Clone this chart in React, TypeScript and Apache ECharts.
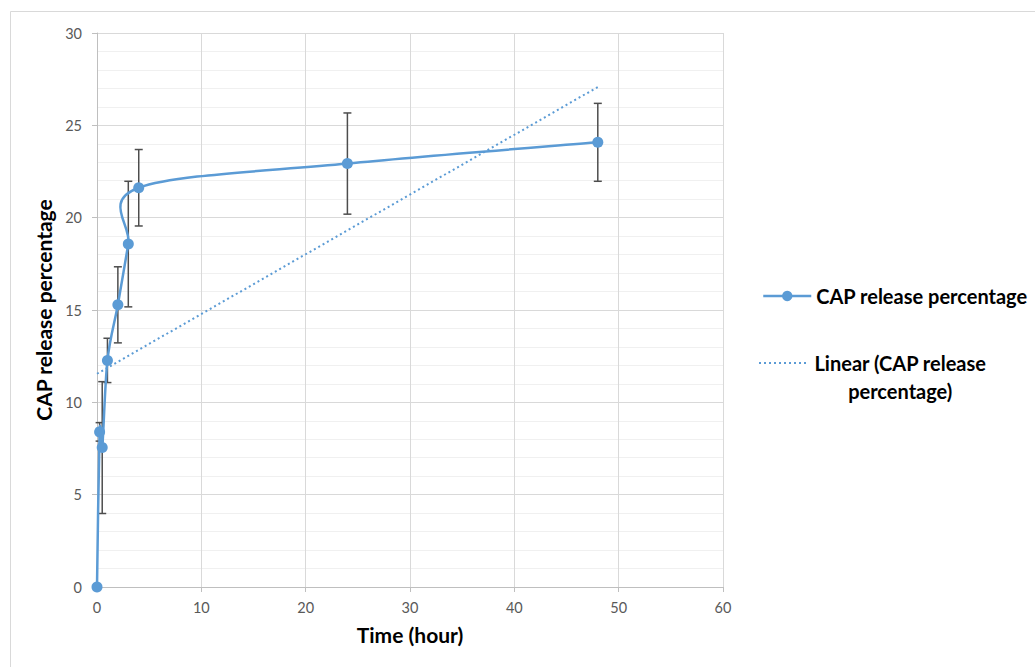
import React, { useEffect, useRef } from "react";
import * as echarts from "echarts";

// ---- data ----
const timeHours = [0, 0.25, 0.5, 1, 2, 3, 4, 24, 48];
const releasePct = [0, 8.4, 7.55, 12.27, 15.28, 18.57, 21.62, 22.93, 24.08];
const releaseErr = [0, 0.5, 3.57, 1.2, 2.06, 3.4, 2.07, 2.74, 2.11];

const seriesName = "CAP release percentage";
const trendName = "Linear (CAP release percentage)";
const xAxisTitle = "Time (hour)";
const yAxisTitle = "CAP release percentage";

const BLUE = "#5b9bd5";
const FONT = "Lato, 'Open Sans', sans-serif";

function linearFit(xs: number[], ys: number[]) {
  const n = xs.length;
  const mx = xs.reduce((a, b) => a + b, 0) / n;
  const my = ys.reduce((a, b) => a + b, 0) / n;
  let sxx = 0;
  let sxy = 0;
  for (let i = 0; i < n; i++) {
    sxx += (xs[i] - mx) * (xs[i] - mx);
    sxy += (xs[i] - mx) * (ys[i] - my);
  }
  const slope = sxy / sxx;
  return { slope, intercept: my - slope * mx };
}

export default function App() {
  const ref = useRef<HTMLDivElement>(null);

  useEffect(() => {
    if (!ref.current) return;
    const chart = echarts.init(ref.current, undefined, { renderer: "svg" });

    const pts = timeHours.map((x, i) => [x, releasePct[i]]);
    const fit = linearFit(timeHours, releasePct);
    const xEnd = timeHours[timeHours.length - 1];
    const trendData = [
      [timeHours[0], fit.intercept + fit.slope * timeHours[0]],
      [xEnd, fit.intercept + fit.slope * xEnd],
    ];
    const errData = pts
      .map((p, i) => [p[0], p[1] - releaseErr[i], p[1] + releaseErr[i], releaseErr[i]])
      .filter((d) => d[3] > 0);
    const segData = pts.slice(0, -1).map((p, i) => [p[0], p[1], i]);

    const titleStyle = { fontFamily: FONT, fontSize: 21, fontWeight: "bold", color: "#000" };
    const legendText = { fontFamily: FONT, fontSize: 20, fontWeight: "bold", color: "#000" };

    const option: any = {
      animation: false,
      backgroundColor: "#ffffff",
      textStyle: { fontFamily: FONT },
      grid: { left: 97, top: 33, right: 312, bottom: 80, containLabel: false },
      graphic: [
        {
          type: "rect",
          silent: true,
          z: -10,
          shape: { x: 10.5, y: 11.5, width: 1100, height: 700 },
          style: { fill: "none", stroke: "#d9d9d9", lineWidth: 1 },
        },
      ],
      xAxis: {
        type: "value",
        min: 0,
        max: 60,
        interval: 10,
        name: xAxisTitle,
        nameLocation: "middle",
        nameGap: 37,
        nameTextStyle: titleStyle,
        axisLine: { show: true, lineStyle: { color: "#bfbfbf", width: 1 } },
        axisTick: { show: true, length: 5, lineStyle: { color: "#bfbfbf" } },
        axisLabel: { fontFamily: FONT, fontSize: 14.5, color: "#595959", margin: 13 },
        splitLine: { show: true, lineStyle: { color: "#d9d9d9", width: 1 } },
      },
      yAxis: {
        type: "value",
        min: 0,
        max: 30,
        interval: 5,
        name: yAxisTitle,
        nameLocation: "middle",
        nameGap: 38,
        nameTextStyle: titleStyle,
        axisLine: { show: true, lineStyle: { color: "#bfbfbf", width: 1 } },
        axisTick: { show: true, length: 5, lineStyle: { color: "#bfbfbf" } },
        axisLabel: { fontFamily: FONT, fontSize: 14.5, color: "#595959", margin: 15 },
        splitLine: { show: true, lineStyle: { color: "#d9d9d9", width: 1 } },
        minorTick: { show: false, splitNumber: 5 },
        minorSplitLine: { show: true, lineStyle: { color: "#f0f0f0", width: 1 } },
      },
      legend: [
        {
          orient: "vertical",
          left: 762,
          top: 286,
          padding: 0,
          itemWidth: 48,
          itemHeight: 13,
          itemGap: 5,
          selectedMode: false,
          textStyle: legendText,
          data: [
            {
              name: seriesName,
              itemStyle: { color: BLUE },
              lineStyle: { color: BLUE, width: 2.5, opacity: 1 },
            },
          ],
        },
        {
          orient: "vertical",
          left: 758,
          top: 326,
          padding: 0,
          itemWidth: 50,
          itemHeight: 12,
          selectedMode: false,
          data: [
            {
              name: trendName,
              itemStyle: { color: "rgba(0,0,0,0)", opacity: 0 },
              lineStyle: { color: BLUE, width: 2, opacity: 1, type: [2, 3] },
            },
          ],
          formatter: () => "{s| }\n{a|Linear (CAP release}\n{a|percentage)}",
          textStyle: {
            ...legendText,
            rich: {
              s: { fontSize: 18, lineHeight: 28, align: "center" },
              a: { ...legendText, lineHeight: 28, align: "center" },
            },
          },
        },
      ],
      series: [
        {
          type: "custom",
          name: "errorbars",
          z: 2,
          silent: true,
          data: errData,
          encode: { x: 0, y: [1, 2] },
          renderItem: (params: any, api: any) => {
            const x = api.value(0);
            const lo = api.coord([x, api.value(1)]);
            const hi = api.coord([x, api.value(2)]);
            const cap = 4;
            const style = { stroke: "#4d4d4d", lineWidth: 1.5 };
            return {
              type: "group",
              children: [
                { type: "line", shape: { x1: hi[0], y1: hi[1], x2: lo[0], y2: lo[1] }, style },
                { type: "line", shape: { x1: hi[0] - cap, y1: hi[1], x2: hi[0] + cap, y2: hi[1] }, style },
                { type: "line", shape: { x1: lo[0] - cap, y1: lo[1], x2: lo[0] + cap, y2: lo[1] }, style },
              ],
            };
          },
        },
        {
          type: "custom",
          name: "smoothCurve",
          z: 3,
          silent: true,
          data: segData,
          encode: { x: 0, y: 1 },
          renderItem: (params: any, api: any) => {
            const i = params.dataIndex;
            const n = pts.length;
            const c = (k: number) => api.coord(pts[Math.max(0, Math.min(n - 1, k))]);
            const p0 = c(i - 1);
            const p1 = c(i);
            const p2 = c(i + 1);
            const p3 = c(i + 2);
            return {
              type: "bezierCurve",
              shape: {
                x1: p1[0],
                y1: p1[1],
                x2: p2[0],
                y2: p2[1],
                cpx1: p1[0] + (p2[0] - p0[0]) / 6,
                cpy1: p1[1] + (p2[1] - p0[1]) / 6,
                cpx2: p2[0] - (p3[0] - p1[0]) / 6,
                cpy2: p2[1] - (p3[1] - p1[1]) / 6,
              },
              style: { stroke: BLUE, lineWidth: 2.5, fill: "none" },
            };
          },
        },
        {
          type: "line",
          name: seriesName,
          z: 4,
          data: pts,
          symbol: "circle",
          symbolSize: 11,
          showSymbol: true,
          itemStyle: { color: BLUE },
          lineStyle: { width: 0, opacity: 0 },
        },
        {
          type: "line",
          name: trendName,
          z: 3,
          data: trendData,
          symbol: "none",
          lineStyle: { color: BLUE, width: 2, type: [2, 3] },
          itemStyle: { color: BLUE },
        },
      ],
    };

    chart.setOption(option);
    return () => chart.dispose();
  }, []);

  return (
    <div
      ref={ref}
      style={{ position: "absolute", left: 0, top: 0, width: 1035, height: 667 }}
    />
  );
}
